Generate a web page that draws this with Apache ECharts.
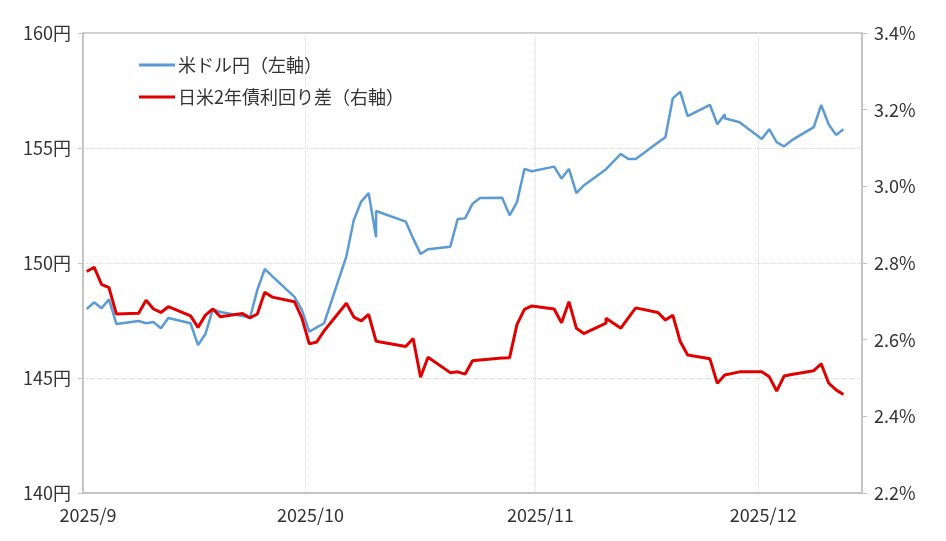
<!DOCTYPE html>
<html>
<head>
<meta charset="utf-8">
<script src="https://cdn.jsdelivr.net/npm/echarts@6/dist/echarts.min.js"></script>
<style>html,body{margin:0;padding:0;background:#fff}#c{width:946px;height:541px}</style>
</head>
<body>
<div id="c"></div>
<script>
const dates = ['2025-09-01','2025-09-02','2025-09-03','2025-09-04','2025-09-05',
'2025-09-08','2025-09-09','2025-09-10','2025-09-11','2025-09-12',
'2025-09-15','2025-09-16','2025-09-17','2025-09-18','2025-09-19',
'2025-09-22','2025-09-23','2025-09-24','2025-09-25','2025-09-26',
'2025-09-29','2025-09-30','2025-10-01','2025-10-02','2025-10-03',
'2025-10-06','2025-10-07','2025-10-08','2025-10-09','2025-10-10','2025-10-10',
'2025-10-14','2025-10-15','2025-10-16','2025-10-17',
'2025-10-20','2025-10-21','2025-10-22','2025-10-23','2025-10-24',
'2025-10-27','2025-10-28','2025-10-29','2025-10-30','2025-10-31',
'2025-11-03','2025-11-04','2025-11-05','2025-11-06','2025-11-07',
'2025-11-10','2025-11-10','2025-11-12','2025-11-13','2025-11-14',
'2025-11-17','2025-11-18','2025-11-19','2025-11-20','2025-11-21',
'2025-11-24','2025-11-25','2025-11-26','2025-11-26','2025-11-28',
'2025-12-01','2025-12-02','2025-12-03','2025-12-04','2025-12-05',
'2025-12-08','2025-12-09','2025-12-10','2025-12-11','2025-12-12'];

const usdjpy = [148.00,148.29,148.03,148.42,147.35,
147.48,147.38,147.43,147.16,147.61,
147.38,146.43,146.91,147.99,147.87,
147.70,147.61,148.83,149.74,149.43,
148.53,147.96,147.01,147.20,147.38,
150.29,151.87,152.67,153.04,151.12,152.26,
151.80,151.07,150.39,150.60,
150.71,151.91,151.94,152.57,152.83,
152.84,152.07,152.65,154.09,153.99,
154.19,153.67,154.09,153.04,153.37,
154.08,154.08,154.74,154.52,154.52,
155.24,155.47,157.16,157.45,156.39,
156.88,156.03,156.47,156.29,156.12,
155.39,155.82,155.25,155.07,155.33,
155.91,156.87,156.03,155.57,155.81];

const spread = [2.778,2.789,2.744,2.736,2.667,
2.669,2.703,2.680,2.671,2.686,
2.662,2.632,2.664,2.680,2.660,
2.668,2.657,2.667,2.724,2.711,
2.699,2.657,2.589,2.594,2.623,
2.695,2.659,2.649,2.666,2.596,2.595,
2.582,2.603,2.502,2.554,
2.514,2.516,2.510,2.545,2.547,
2.552,2.553,2.640,2.679,2.688,
2.680,2.644,2.699,2.630,2.616,
2.643,2.656,2.630,2.657,2.683,
2.671,2.651,2.664,2.595,2.560,
2.550,2.486,2.508,2.508,2.516,
2.516,2.503,2.466,2.505,2.509,
2.519,2.537,2.487,2.469,2.457];

const leftTicks = {min:140, max:160, interval:5};
const rightTicks = {min:2.2, max:3.4, interval:0.2};
const xRange = {min:'2025-09-01', max:'2025-12-15'};
const names = ['米ドル円（左軸）','日米2年債利回り差（右軸）'];

const t = s => new Date(s + 'T12:00:00').getTime();
const t0 = s => new Date(s + 'T00:00:00').getTime();
const font = '"Noto Sans CJK JP", "Noto Sans", sans-serif';

const chart = echarts.init(document.getElementById('c'));
chart.setOption({
  animation: false,
  backgroundColor: '#fff',
  textStyle: {fontFamily: font},
  grid: {left: 83, right: 84, top: 33, bottom: 48, show: true, borderColor: '#c0c0c0', borderWidth: 1.5},
  legend: {
    orient: 'vertical', left: 134, top: 51, itemWidth: 36, itemHeight: 3, itemGap: 14,
    icon: 'rect',
    textStyle: {fontSize: 18, color: '#333', fontFamily: font, padding: [0,0,0,-2]},
    data: names
  },
  xAxis: {
    type: 'time', min: t0(xRange.min), max: t0(xRange.max),
    splitNumber: 3, minInterval: 28*86400000,
    axisLine: {show: true, lineStyle: {color: '#c0c0c0', width: 1.5}},
    axisTick: {show: false},
    splitLine: {show: true, lineStyle: {color: '#dcdcdc', type: 'dotted', width: 1}},
    axisLabel: {
      fontSize: 18, color: '#333', margin: 13, padding: [0,0,0,10],
      formatter: v => { const d = new Date(v); return d.getFullYear() + '/' + (d.getMonth()+1); }
    }
  },
  yAxis: [
    {
      type: 'value', min: leftTicks.min, max: leftTicks.max, interval: leftTicks.interval,
      axisLine: {show: true, lineStyle: {color: '#c0c0c0', width: 1.5}},
      axisTick: {show: true, length: 5, lineStyle: {color: '#c0c0c0'}},
      splitLine: {show: true, lineStyle: {color: '#dcdcdc', type: 'dotted', width: 1}},
      axisLabel: {fontSize: 18, color: '#333', margin: 12, formatter: v => v + '円'}
    },
    {
      type: 'value', min: rightTicks.min, max: rightTicks.max, interval: rightTicks.interval,
      axisLine: {show: true, lineStyle: {color: '#c0c0c0', width: 1.5}},
      axisTick: {show: true, length: 5, lineStyle: {color: '#c0c0c0'}},
      splitLine: {show: false},
      axisLabel: {fontSize: 18, color: '#333', margin: 12, formatter: v => v.toFixed(1) + '%'}
    }
  ],
  series: [
    {
      name: names[0], type: 'line', yAxisIndex: 0, symbol: 'none', smooth: false,
      lineStyle: {color: '#5b9bd5', width: 2.5}, itemStyle: {color: '#5b9bd5'},
      data: dates.map((d, i) => [t(d), usdjpy[i]])
    },
    {
      name: names[1], type: 'line', yAxisIndex: 1, symbol: 'none', smooth: false,
      lineStyle: {color: '#e00000', width: 3}, itemStyle: {color: '#e00000'},
      data: dates.map((d, i) => [t(d), spread[i]])
    }
  ]
});
</script>
</body>
</html>
